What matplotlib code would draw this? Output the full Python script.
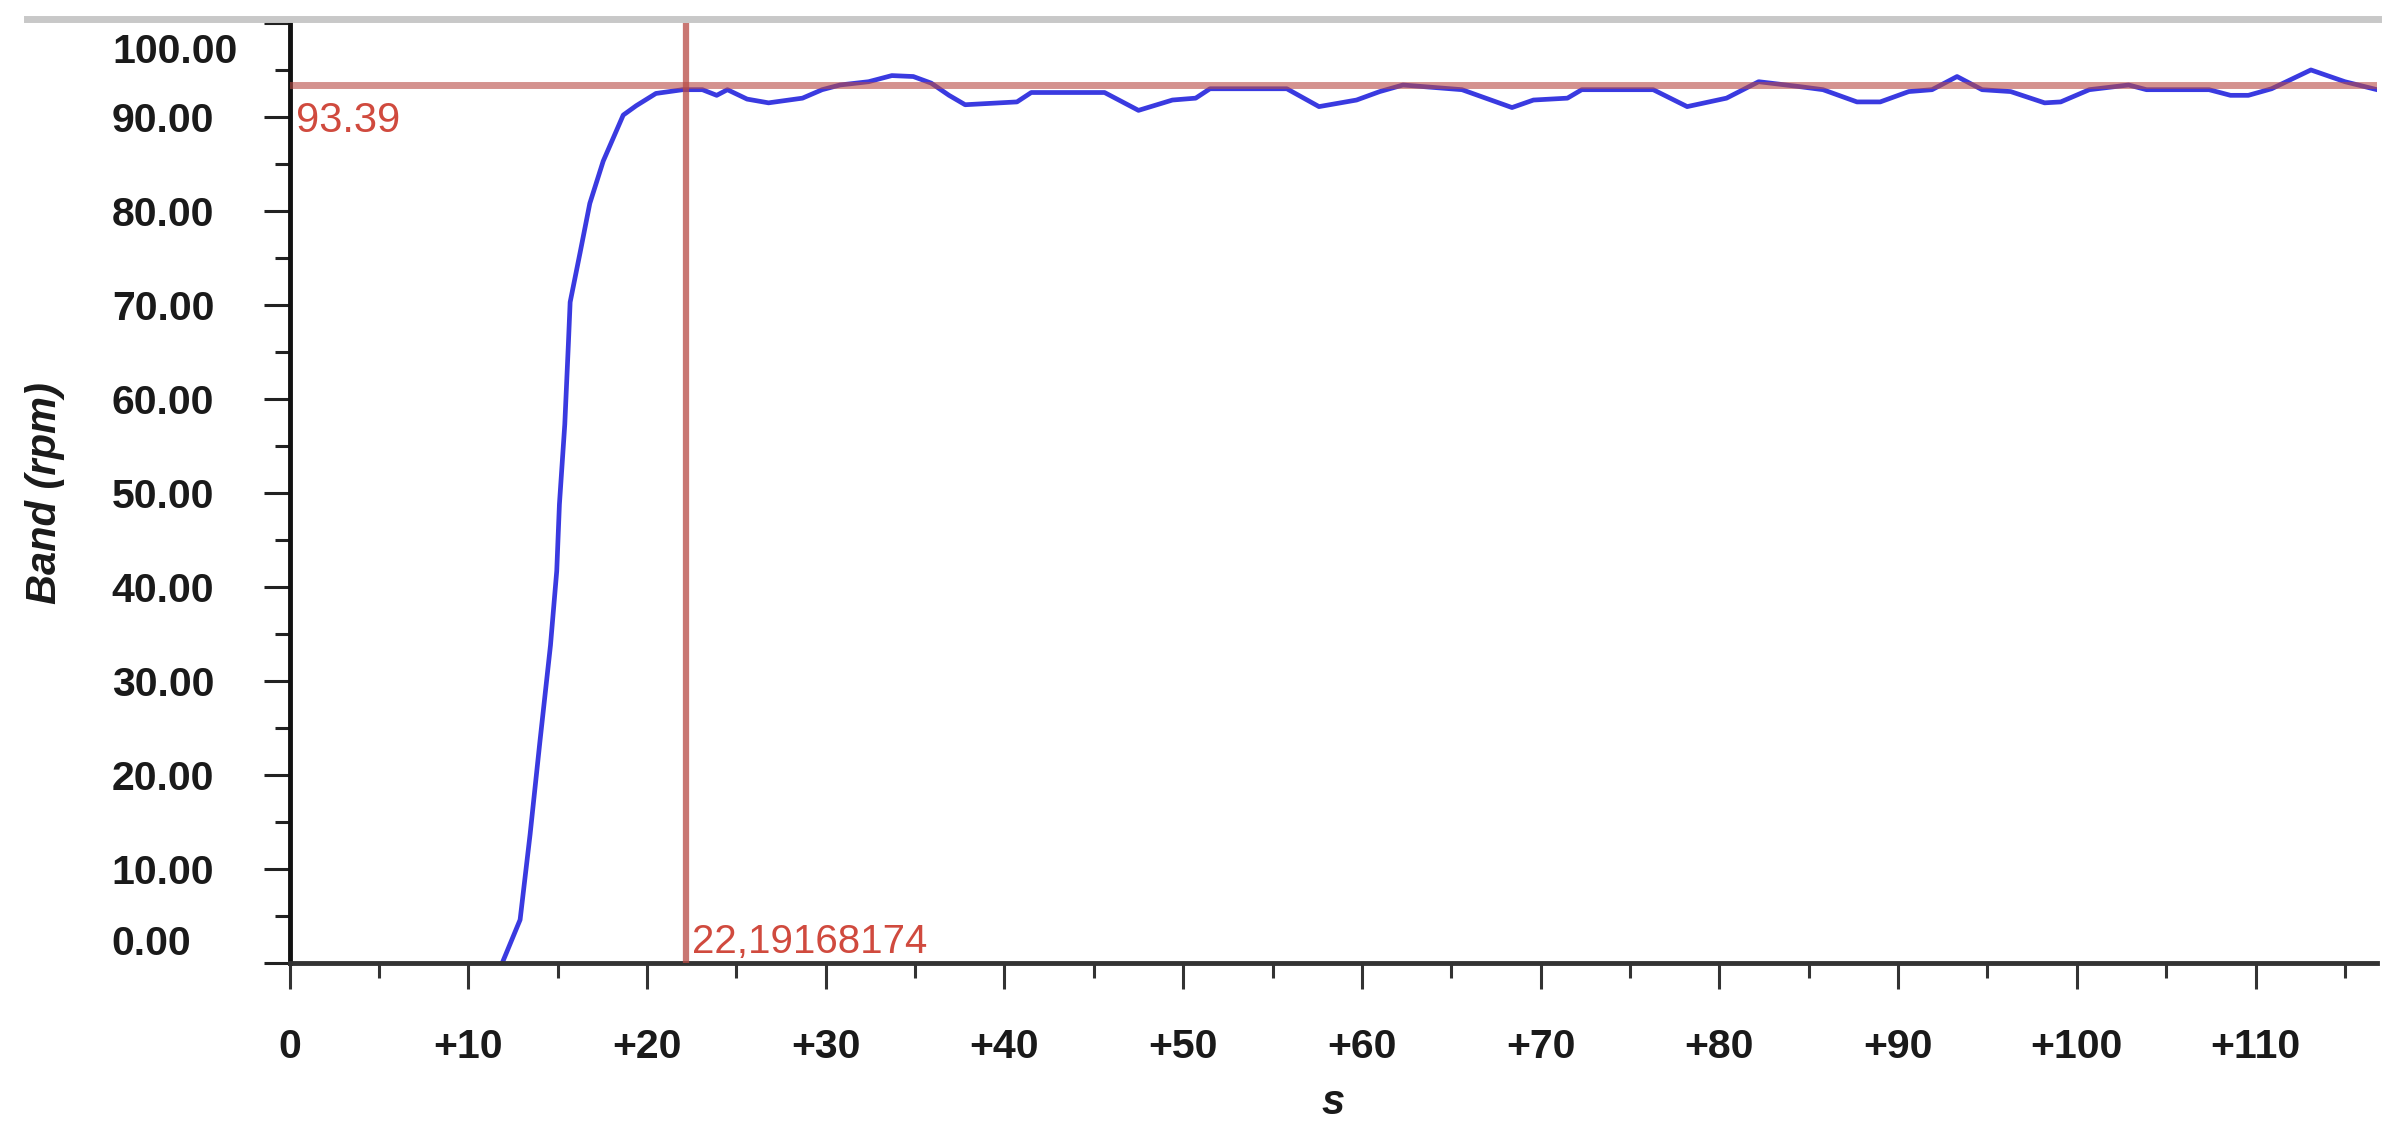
import matplotlib
matplotlib.use("Agg")
import matplotlib.pyplot as plt
from matplotlib.lines import Line2D

plt.rcParams['font.family'] = ['Liberation Sans', 'DejaVu Sans']

time_s = [11.9, 12.9, 13.46, 14.0, 14.6, 14.95, 15.1, 15.4, 15.6, 15.7,
          16.26, 16.8, 17.55, 18.67, 19.4, 20.5, 22.0, 23.1, 23.9, 24.5,
          25.6, 26.8, 28.7, 29.8, 30.8, 32.4, 33.7, 34.9, 35.9, 36.9,
          37.8, 40.7, 41.5, 45.6, 47.5, 49.4, 50.7, 51.5, 55.8, 57.6,
          59.7, 61.0, 62.3, 65.6, 68.4, 69.6, 71.5, 72.3, 76.3, 78.2,
          80.4, 82.2, 84.6, 85.8, 87.7, 89.0, 90.6, 91.9, 93.3, 94.7,
          96.3, 98.2, 99.1, 100.7, 102.9, 103.9, 107.4, 108.6, 109.6, 110.9,
          113.1, 115.0, 116.8]
band_rpm = [0.0, 4.6, 13.7, 23.4, 33.8, 41.7, 48.8, 57.3, 65.8, 70.3,
            75.6, 80.8, 85.3, 90.2, 91.2, 92.5, 92.9, 92.9, 92.3, 92.9,
            91.9, 91.5, 92.0, 92.9, 93.4, 93.75, 94.4, 94.3, 93.6, 92.3,
            91.3, 91.6, 92.6, 92.6, 90.7, 91.8, 92.0, 93.0, 93.0, 91.1,
            91.8, 92.7, 93.4, 92.9, 91.0, 91.8, 92.0, 92.9, 92.9, 91.1,
            92.0, 93.75, 93.2, 92.9, 91.6, 91.6, 92.7, 92.9, 94.3, 92.9,
            92.7, 91.5, 91.6, 92.9, 93.4, 92.9, 92.9, 92.3, 92.3, 93.0,
            95.0, 93.75, 92.9]

cursor_x = 22.19168174
cursor_y = 93.39
cursor_x_text = "22,19168174"
cursor_y_text = "93.39"

x_major = list(range(0, 111, 10))
x_labels = ["0"] + ["+%d" % v for v in x_major[1:]]
y_major = list(range(0, 101, 10))
y_labels = ["%.2f" % v for v in y_major]

fig = plt.figure(figsize=(23.89, 11.36), dpi=100)
ax = fig.add_axes([0.1212, 0.1523, 0.995 - 0.1212, 0.9798 - 0.1523])

ax.plot(time_s, band_rpm, color='#3a3ae0', lw=3.4, zorder=2)
ax.axhline(cursor_y, color='#b84a44', lw=5, alpha=0.6, zorder=3)
ax.axvline(cursor_x, color='#b84a44', lw=4.5, alpha=0.75, zorder=3)

ax.set_xlim(0, 116.8)
ax.set_ylim(0, 100)

for side in ['top', 'right']:
    ax.spines[side].set_visible(False)
ax.spines['left'].set_linewidth(3.5)
ax.spines['left'].set_color('#111111')
ax.spines['bottom'].set_linewidth(3.5)
ax.spines['bottom'].set_color('#333333')

ax.set_xticks(x_major)
ax.set_xticklabels(x_labels)
ax.set_xticks(list(range(5, 117, 10)), minor=True)
ax.set_yticks(y_major)
# 100.00 wird weiter unten als eigener Text gesetzt (in der Vorlage nach innen gerückt)
ax.set_yticklabels(y_labels[:-1] + [""])
ax.set_yticks(list(range(5, 100, 10)), minor=True)

ax.tick_params(axis='x', which='major', length=19, width=2.2, color='#333333',
               pad=28, labelsize=29.5)
ax.tick_params(axis='x', which='minor', length=11, width=2.2, color='#333333')
ax.tick_params(axis='y', which='major', length=19, width=2.2, color='#222222',
               pad=109, labelsize=29.5)
ax.tick_params(axis='y', which='minor', length=11, width=2.2, color='#222222')

for lab in ax.get_xticklabels() + ax.get_yticklabels():
    lab.set_fontweight('bold')
    lab.set_color('#1a1a1a')
ylabs = ax.get_yticklabels()
for lab in ylabs:
    lab.set_horizontalalignment('left')
ylabs[0].set_verticalalignment('bottom')

fig.text(112 / 2389, 1 - 52 / 1136, y_labels[-1], ha='left', va='center',
         fontsize=29.5, fontweight='bold', color='#1a1a1a')

# Cursor-Beschriftungen
ax.annotate(cursor_y_text, xy=(0, cursor_y), xytext=(6, -16),
            textcoords='offset pixels', va='top', ha='left',
            fontsize=30, color='#d04a3e')
ax.annotate(cursor_x_text, xy=(cursor_x, 0), xytext=(6, 2),
            textcoords='offset pixels', va='bottom', ha='left',
            fontsize=29, color='#d04a3e')

fig.text(45 / 2389, 1 - 493 / 1136, "Band (rpm)", rotation=90,
         ha='center', va='center', fontsize=30, fontweight='bold',
         fontstyle='italic', color='#1a1a1a')
fig.text(1333 / 2389, 1 - 1103 / 1136, "s", ha='center', va='center',
         fontsize=30, fontweight='bold', fontstyle='italic', color='#1a1a1a')

# graue Linie oben
fig.add_artist(Line2D([27 / 2389, 2378 / 2389], [1 - 19 / 1136, 1 - 19 / 1136],
                      transform=fig.transFigure, color='#c8c8c8', lw=5))

fig.savefig("out.png", dpi=100)
